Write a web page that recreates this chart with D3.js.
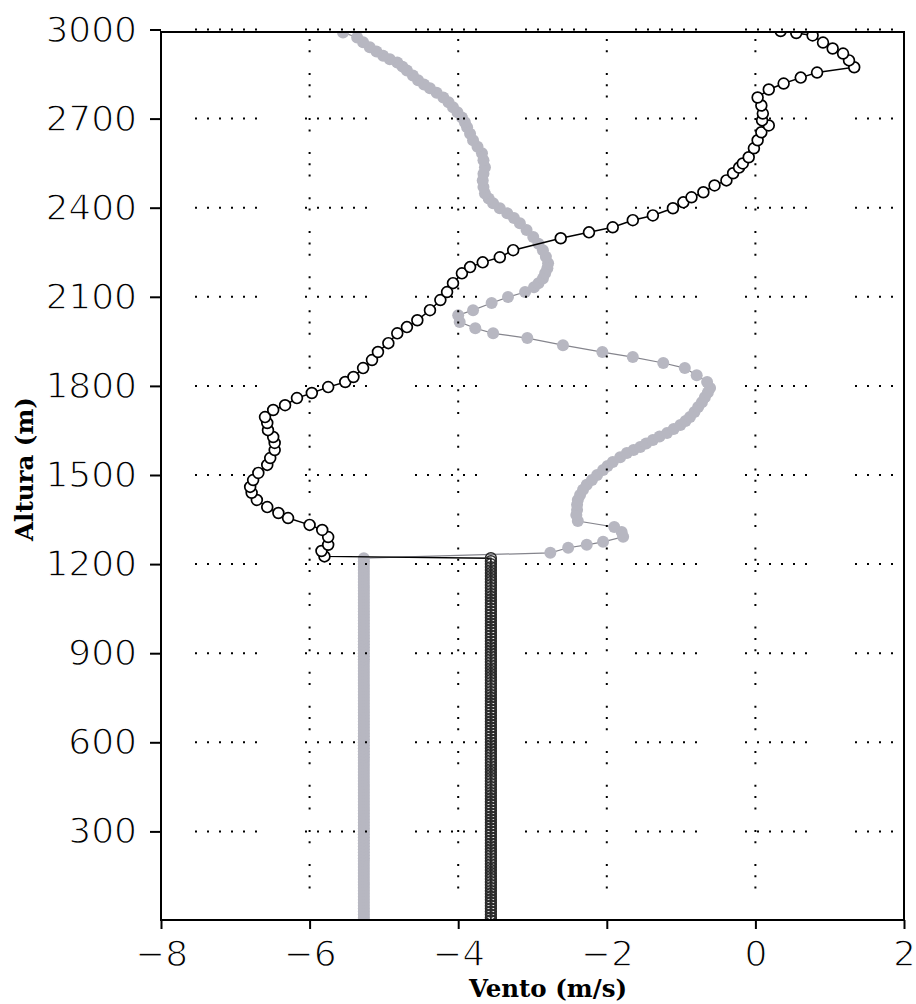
<!DOCTYPE html>
<html>
<head>
<meta charset="utf-8">
<script src="https://cdn.jsdelivr.net/npm/d3@7"></script>
<style>
  html, body { margin: 0; padding: 0; background: #fff; }
  svg { display: block; }
</style>
</head>
<body>
<svg id="chart" width="916" height="1004"></svg>
<script>
// ---- Axis ticks ----
const yTicks = [300, 600, 900, 1200, 1500, 1800, 2100, 2400, 2700, 3000];
const xTicks = [-8, -6, -4, -2, 0, 2];
const gridX = [-6, -4, -2, 0];

// ---- Lower layer (constant profiles), sampled every 10 m ----
const alturaBase = [
  0, 10, 20, 30, 40, 50, 60, 70, 80, 90,
  100, 110, 120, 130, 140, 150, 160, 170, 180, 190,
  200, 210, 220, 230, 240, 250, 260, 270, 280, 290,
  300, 310, 320, 330, 340, 350, 360, 370, 380, 390,
  400, 410, 420, 430, 440, 450, 460, 470, 480, 490,
  500, 510, 520, 530, 540, 550, 560, 570, 580, 590,
  600, 610, 620, 630, 640, 650, 660, 670, 680, 690,
  700, 710, 720, 730, 740, 750, 760, 770, 780, 790,
  800, 810, 820, 830, 840, 850, 860, 870, 880, 890,
  900, 910, 920, 930, 940, 950, 960, 970, 980, 990,
  1000, 1010, 1020, 1030, 1040, 1050, 1060, 1070, 1080, 1090,
  1100, 1110, 1120, 1130, 1140, 1150, 1160, 1170, 1180, 1190,
  1200, 1210, 1220
];
const ventoBase1 = -3.56;   // open-circle profile below 1220 m
const ventoBase2 = -5.27;   // grey profile below 1220 m

// ---- Open-circle profile above 1220 m ----
const altura1 = [
  1226, 1244, 1265, 1291, 1315, 1332, 1355, 1372, 1392, 1416,
  1440, 1460, 1483, 1507, 1534, 1557, 1584, 1608, 1628, 1651,
  1675, 1695, 1719, 1735, 1759, 1776, 1796, 1813, 1830, 1860,
  1887, 1914, 1944, 1977, 1998, 2021, 2055, 2089, 2116, 2146,
  2179, 2200, 2216, 2233, 2257, 2297, 2317, 2334, 2358, 2374,
  2398, 2418, 2435, 2452, 2475, 2492, 2516, 2535, 2549, 2570,
  2600, 2627, 2654, 2677, 2694, 2717, 2744, 2771, 2798, 2818,
  2838, 2855, 2873, 2896, 2919, 2936, 2956, 2980, 2988, 2995
];
const vento1 = [
  -5.80, -5.84, -5.75, -5.75, -5.83, -6.00, -6.29, -6.42, -6.57, -6.71,
  -6.78, -6.80, -6.76, -6.69, -6.57, -6.53, -6.47, -6.47, -6.49, -6.56,
  -6.57, -6.60, -6.49, -6.33, -6.17, -5.97, -5.75, -5.52, -5.41, -5.28,
  -5.16, -5.08, -4.94, -4.82, -4.69, -4.55, -4.38, -4.24, -4.15, -4.07,
  -3.95, -3.84, -3.67, -3.44, -3.26, -2.62, -2.24, -1.92, -1.65, -1.38,
  -1.11, -0.97, -0.86, -0.70, -0.55, -0.39, -0.30, -0.22, -0.17, -0.09,
  -0.02, 0.03, 0.08, 0.18, 0.09, 0.10, 0.08, 0.03, 0.18, 0.38,
  0.61, 0.83, 1.33, 1.26, 1.18, 1.04, 0.91, 0.77, 0.55, 0.34
];

// ---- Grey profile above 1220 m ----
const altura2 = [
  1238, 1255, 1265, 1275, 1292, 1308, 1325, 1345, 1365, 1382,
  1400, 1416, 1433, 1450, 1467, 1483, 1500, 1517, 1530, 1544,
  1560, 1574, 1584, 1594, 1606, 1618, 1630, 1641, 1655, 1668,
  1682, 1695, 1712, 1729, 1745, 1762, 1778, 1793, 1813, 1836,
  1860, 1877, 1897, 1914, 1937, 1961, 1977, 1994, 2015, 2038,
  2055, 2079, 2099, 2116, 2132, 2146, 2162, 2179, 2196, 2213,
  2235, 2257, 2279, 2301, 2325, 2348, 2365, 2381, 2398, 2415,
  2431, 2448, 2470, 2492, 2514, 2536, 2560, 2583, 2605, 2627,
  2649, 2671, 2688, 2704, 2721, 2738, 2755, 2771, 2787, 2802,
  2815, 2829, 2845, 2862, 2875, 2889, 2900, 2912, 2926, 2940,
  2957, 2973, 2990
];
const vento2 = [
  -2.76, -2.52, -2.27, -2.05, -1.78, -1.80, -1.90, -2.39, -2.41, -2.40,
  -2.40, -2.39, -2.36, -2.32, -2.27, -2.20, -2.13, -2.05, -1.99, -1.92,
  -1.82, -1.73, -1.64, -1.55, -1.47, -1.38, -1.29, -1.19, -1.10, -1.01,
  -0.94, -0.88, -0.82, -0.77, -0.72, -0.68, -0.64, -0.61, -0.65, -0.79,
  -0.95, -1.24, -1.65, -2.06, -2.59, -3.07, -3.53, -3.77, -3.98, -4.00,
  -3.80, -3.55, -3.33, -3.10, -2.98, -2.92, -2.86, -2.83, -2.80, -2.79,
  -2.82, -2.86, -2.92, -2.99, -3.08, -3.17, -3.25, -3.34, -3.44, -3.53,
  -3.59, -3.64, -3.66, -3.67, -3.66, -3.64, -3.66, -3.68, -3.74, -3.80,
  -3.84, -3.88, -3.91, -3.95, -4.01, -4.07, -4.13, -4.20, -4.29, -4.38,
  -4.46, -4.54, -4.61, -4.69, -4.75, -4.82, -4.92, -5.01, -5.10, -5.19,
  -5.28, -5.36, -5.55
];

// ---- Build profiles (height-ordered points) ----
const base1 = alturaBase.map(h => ({ h, v: ventoBase1, base: true }));
const base2 = alturaBase.map(h => ({ h, v: ventoBase2, base: true }));
const perfil1 = base1.concat(altura1.map((h, i) => ({ h, v: vento1[i], base: false })));
const perfil2 = base2.concat(altura2.map((h, i) => ({ h, v: vento2[i], base: false })));

// ---- Layout ----
const frame = { left: 161, right: 904, top: 32, bottom: 920 };
const svg = d3.select("#chart");

const x = d3.scaleLinear().domain([-8, 2]).range([frame.left, frame.right]);
const y = d3.scaleLinear().domain([0, 3000]).range([920.5, 29.5]);

svg.append("rect").attr("width", 916).attr("height", 1004).attr("fill", "#fff");

svg.append("defs").append("clipPath").attr("id", "plotClip")
  .append("rect")
  .attr("x", frame.left).attr("y", frame.top)
  .attr("width", frame.right - frame.left)
  .attr("height", frame.bottom - frame.top);

// ---- Grey profile (drawn under the grid dots) ----
const data = svg.append("g").attr("clip-path", "url(#plotClip)");
const line = d3.line().x(d => x(d.v)).y(d => y(d.h));

data.append("path").datum(perfil2)
  .attr("d", line)
  .attr("fill", "none")
  .attr("stroke", "#85858d")
  .attr("stroke-width", 1.2);

data.append("g").selectAll("circle").data(perfil2).join("circle")
  .attr("cx", d => x(d.v)).attr("cy", d => y(d.h))
  .attr("r", 6)
  .attr("fill", "#b7b7c1");

// ---- Dotted grid ----
const grid = svg.append("g").attr("stroke", "#000").attr("stroke-width", 2);
grid.selectAll("line.h").data(yTicks).join("line").attr("class", "h")
  .attr("x1", 195).attr("x2", 893)
  .attr("y1", d => y(d)).attr("y2", d => y(d))
  .attr("stroke-dasharray", "2 10 2 10 2 10 2 10 2 10 2 48");
grid.selectAll("line.v").data(gridX).join("line").attr("class", "v")
  .attr("x1", d => x(d)).attr("x2", d => x(d))
  .attr("y1", 39).attr("y2", 898)
  .attr("stroke-dasharray", "2 9.3 2 20.6 2 9.3 2 9.3 2 20.6");

// ---- Open-circle profile ----
const data1 = svg.append("g").attr("clip-path", "url(#plotClip)");
data1.append("path").datum(perfil1)
  .attr("d", line)
  .attr("fill", "none")
  .attr("stroke", "#000")
  .attr("stroke-width", 1.5);

// stacked base-layer markers stay hollow so their outlines overlap
data1.append("g").selectAll("circle").data(perfil1).join("circle")
  .attr("cx", d => x(d.v)).attr("cy", d => y(d.h))
  .attr("r", 5.4)
  .attr("fill", d => d.base ? "none" : "#fff")
  .attr("stroke", d => d.base ? "#2a2a2a" : "#000")
  .attr("stroke-width", d => d.base ? 1.5 : 1.7);

// ---- Frame ----
svg.append("rect")
  .attr("x", frame.left).attr("y", frame.top)
  .attr("width", frame.right - frame.left)
  .attr("height", frame.bottom - frame.top)
  .attr("fill", "none")
  .attr("stroke", "#000")
  .attr("stroke-width", 2);

// ---- Axes ----
const fmt = d3.format("d");
const yAxis = svg.append("g")
  .attr("transform", `translate(${frame.left},0)`)
  .call(d3.axisLeft(y).tickValues(yTicks).tickSize(11).tickPadding(13).tickFormat(fmt));
const xAxis = svg.append("g")
  .attr("transform", `translate(0,${frame.bottom})`)
  .call(d3.axisBottom(x).tickValues(xTicks).tickSize(9).tickPadding(11).tickFormat(fmt));

// thin digits: a white outline painted over the glyph fill slims the strokes
[yAxis, xAxis].forEach(g => {
  g.select(".domain").remove();
  g.selectAll(".tick line").attr("stroke", "#000").attr("stroke-width", 2);
  g.selectAll(".tick text")
    .attr("fill", "#000")
    .attr("stroke", "#fff")
    .attr("stroke-width", 1.3)
    .style("paint-order", "fill")
    .style("font-family", "'DejaVu Sans', sans-serif")
    .style("font-size", "36px");
});

// ---- Axis titles ----
svg.append("text")
  .attr("x", 548).attr("y", 997)
  .attr("text-anchor", "middle")
  .style("font-family", "'DejaVu Serif', serif")
  .style("font-weight", "bold")
  .style("font-size", "24.5px")
  .text("Vento (m/s)");

svg.append("text")
  .attr("transform", "translate(33,469) rotate(-90)")
  .attr("text-anchor", "middle")
  .style("font-family", "'DejaVu Serif', serif")
  .style("font-weight", "bold")
  .style("font-size", "24.5px")
  .text("Altura (m)");
</script>
</body>
</html>
